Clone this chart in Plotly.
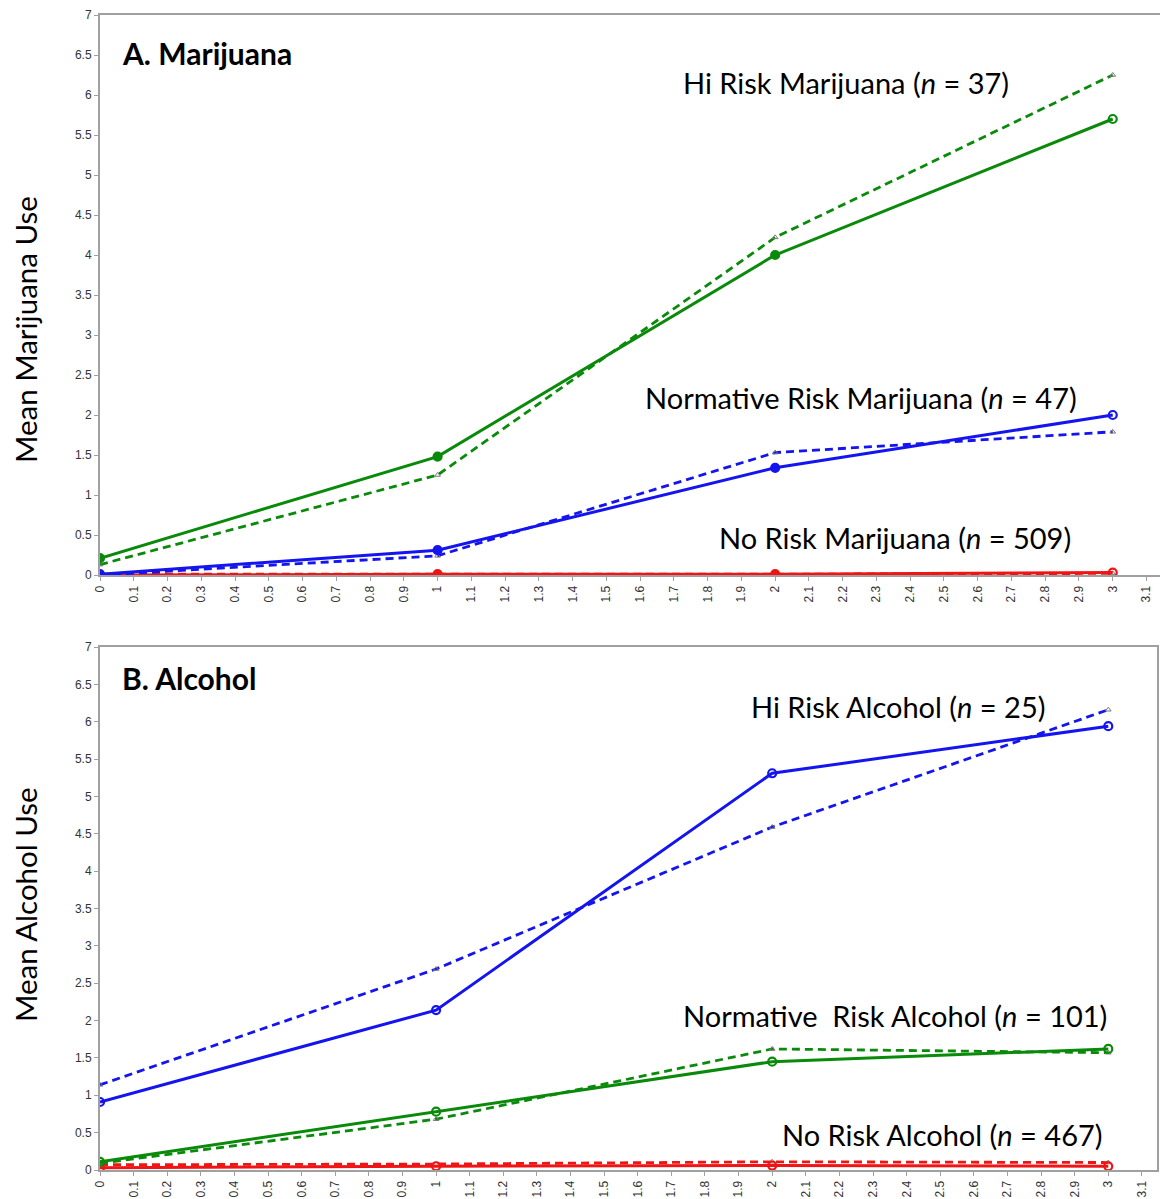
import plotly.graph_objects as go

W, H = 1162, 1199

waves = [0, 1, 2, 3]

# Panel A: Marijuana (observed = solid, estimated = dashed)
mj_hi_obs = [0.21, 1.48, 4.00, 5.70]
mj_hi_est = [0.13, 1.25, 4.22, 6.25]
mj_norm_obs = [0.01, 0.31, 1.34, 2.00]
mj_norm_est = [0.00, 0.24, 1.53, 1.79]
mj_no_obs = [0.00, 0.01, 0.01, 0.03]
mj_no_est = [0.01, 0.01, 0.01, 0.02]

# Panel B: Alcohol
al_hi_obs = [0.91, 2.14, 5.31, 5.94]
al_hi_est = [1.14, 2.69, 4.59, 6.16]
al_norm_obs = [0.11, 0.78, 1.45, 1.62]
al_norm_est = [0.09, 0.68, 1.62, 1.57]
al_no_obs = [0.03, 0.05, 0.06, 0.05]
al_no_est = [0.07, 0.08, 0.11, 0.10]

x_ticks = [round(i * 0.1, 1) for i in range(32)]
x_tick_text = ["0", "0.1", "0.2", "0.3", "0.4", "0.5", "0.6", "0.7", "0.8", "0.9",
               "1", "1.1", "1.2", "1.3", "1.4", "1.5", "1.6", "1.7", "1.8", "1.9",
               "2", "2.1", "2.2", "2.3", "2.4", "2.5", "2.6", "2.7", "2.8", "2.9",
               "3", "3.1"]
y_ticks = [0, 0.5, 1, 1.5, 2, 2.5, 3, 3.5, 4, 4.5, 5, 5.5, 6, 6.5, 7]
y_tick_text = ["0", "0.5", "1", "1.5", "2", "2.5", "3", "3.5", "4", "4.5", "5", "5.5", "6", "6.5", "7"]

GREEN = "#0a8a0a"
BLUE = "#1414f0"
RED = "#f01414"

fig = go.Figure()


def add_pair(obs, est, color, xa, ya, filled):
    fig.add_trace(go.Scatter(
        x=waves, y=est, mode="lines+markers", xaxis=xa, yaxis=ya,
        line=dict(color=color, width=2.8, dash="8px,5px"),
        marker=dict(symbol="triangle-up-open", size=5, color="#777777",
                    line=dict(width=1, color="#777777")),
        showlegend=False, hoverinfo="skip"))
    symbols = ["circle", "circle", "circle", "circle-open"] if filled else ["circle-open"] * 4
    fig.add_trace(go.Scatter(
        x=waves, y=obs, mode="lines+markers", xaxis=xa, yaxis=ya,
        line=dict(color=color, width=3),
        marker=dict(symbol=symbols, size=8, color=color,
                    line=dict(width=2.2, color=color)),
        showlegend=False, hoverinfo="skip"))


add_pair(mj_no_obs, mj_no_est, RED, "x", "y", True)
add_pair(mj_norm_obs, mj_norm_est, BLUE, "x", "y", True)
add_pair(mj_hi_obs, mj_hi_est, GREEN, "x", "y", True)
add_pair(al_no_obs, al_no_est, RED, "x2", "y2", False)
add_pair(al_norm_obs, al_norm_est, GREEN, "x2", "y2", False)
add_pair(al_hi_obs, al_hi_est, BLUE, "x2", "y2", False)


def px_x(p):
    return p / W


def px_y(p):
    return 1 - p / H


tick_font = dict(family="Liberation Sans, Arial, sans-serif", size=12, color="#333333")
axis_common = dict(showgrid=False, zeroline=False, showline=True, linecolor="#a0a0a0",
                   linewidth=2, ticks="outside", ticklen=4, tickcolor="#a0a0a0",
                   tickwidth=1, tickfont=tick_font, automargin=False)

fig.update_layout(
    width=W, height=H, margin=dict(l=0, r=0, t=0, b=0, pad=0, autoexpand=False),
    paper_bgcolor="white", plot_bgcolor="white",
    xaxis=dict(domain=[px_x(100), px_x(1160)], range=[0, 3.14], anchor="y",
               tickvals=x_ticks, ticktext=x_tick_text, tickangle=-90, mirror=True,
               **axis_common),
    yaxis=dict(domain=[px_y(575), px_y(15)], range=[0, 7], anchor="x",
               tickvals=y_ticks, ticktext=y_tick_text, **axis_common),
    xaxis2=dict(domain=[px_x(100), px_x(1157)], range=[0, 3.145], anchor="y2",
                tickvals=x_ticks, ticktext=x_tick_text, tickangle=-90, mirror=True,
                **axis_common),
    yaxis2=dict(domain=[px_y(1170), px_y(647)], range=[0, 7], anchor="x2",
                tickvals=y_ticks, ticktext=y_tick_text, mirror=True, **axis_common),
)

label_font = dict(family="Lato, sans-serif", size=29, color="black")
title_font = dict(family="Lato, sans-serif", size=30, color="black")

annots = [
    ("<b>A. Marijuana</b>", 120, 53, title_font),
    ("<b>B. Alcohol</b>", 120, 678, title_font),
    ("Hi Risk Marijuana (<i>n</i> = 37)", 681, 82, label_font),
    ("Normative Risk Marijuana (<i>n</i> = 47)", 643, 397, label_font),
    ("No Risk Marijuana (<i>n</i> = 509)", 717, 537, label_font),
    ("Hi Risk Alcohol (<i>n</i> = 25)", 749, 706, label_font),
    ("Normative  Risk Alcohol (<i>n</i> = 101)", 681, 1016, label_font),
    ("No Risk Alcohol (<i>n</i> = 467)", 780, 1134, label_font),
]
for text, x, y, f in annots:
    fig.add_annotation(text=text, x=px_x(x), y=px_y(y), xref="paper", yref="paper",
                       xanchor="left", yanchor="middle", showarrow=False, font=f)

for text, yc in [("Mean Marijuana Use", 330), ("Mean Alcohol Use", 905)]:
    fig.add_annotation(text=text, x=px_x(25), y=px_y(yc), xref="paper", yref="paper",
                       xanchor="center", yanchor="middle", showarrow=False, textangle=-90,
                       font=dict(family="Lato, sans-serif", size=29.5, color="black"))

fig.write_html("out.html", config={"displayModeBar": False},
               post_script="document.body.style.margin='0';document.body.style.overflow='hidden';")
